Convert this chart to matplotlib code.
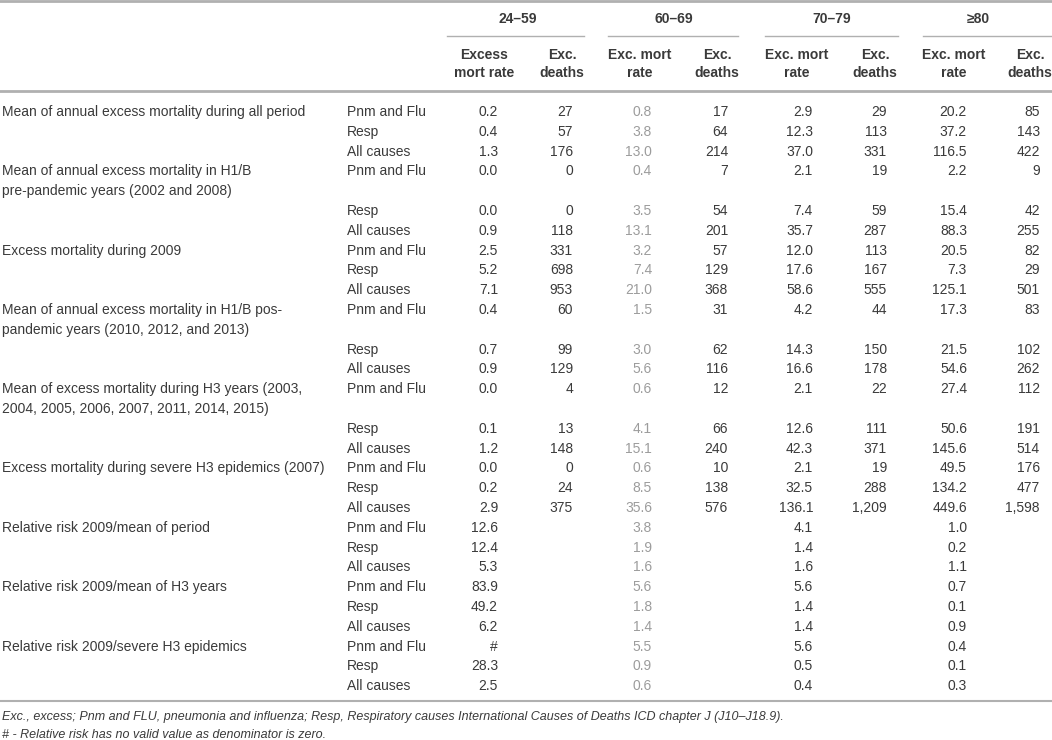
import matplotlib.pyplot as plt

plt.rcParams['font.family'] = ['Liberation Sans', 'DejaVu Sans']

# row labels (only on the first slot of each group; "" = nothing)
row_labels = [
    "Mean of annual excess mortality during all period", "", "",
    "Mean of annual excess mortality in H1/B", "pre-pandemic years (2002 and 2008)", "", "",
    "Excess mortality during 2009", "", "",
    "Mean of annual excess mortality in H1/B pos-", "pandemic years (2010, 2012, and 2013)", "", "",
    "Mean of excess mortality during H3 years (2003,", "2004, 2005, 2006, 2007, 2011, 2014, 2015)", "", "",
    "Excess mortality during severe H3 epidemics (2007)", "", "",
    "Relative risk 2009/mean of period", "", "",
    "Relative risk 2009/mean of H3 years", "", "",
    "Relative risk 2009/severe H3 epidemics", "", "",
]
causes = [
    "Pnm and Flu", "Resp", "All causes",
    "Pnm and Flu", "", "Resp", "All causes",
    "Pnm and Flu", "Resp", "All causes",
    "Pnm and Flu", "", "Resp", "All causes",
    "Pnm and Flu", "", "Resp", "All causes",
    "Pnm and Flu", "Resp", "All causes",
    "Pnm and Flu", "Resp", "All causes",
    "Pnm and Flu", "Resp", "All causes",
    "Pnm and Flu", "Resp", "All causes",
]

age_groups = ["24\u201359", "60\u201369", "70\u201379", "\u226580"]

rate_24_59 = ["0.2", "0.4", "1.3", "0.0", "", "0.0", "0.9", "2.5", "5.2", "7.1",
              "0.4", "", "0.7", "0.9", "0.0", "", "0.1", "1.2", "0.0", "0.2", "2.9",
              "12.6", "12.4", "5.3", "83.9", "49.2", "6.2", "#", "28.3", "2.5"]
deaths_24_59 = ["27", "57", "176", "0", "", "0", "118", "331", "698", "953",
                "60", "", "99", "129", "4", "", "13", "148", "0", "24", "375",
                "", "", "", "", "", "", "", "", ""]
rate_60_69 = ["0.8", "3.8", "13.0", "0.4", "", "3.5", "13.1", "3.2", "7.4", "21.0",
              "1.5", "", "3.0", "5.6", "0.6", "", "4.1", "15.1", "0.6", "8.5", "35.6",
              "3.8", "1.9", "1.6", "5.6", "1.8", "1.4", "5.5", "0.9", "0.6"]
deaths_60_69 = ["17", "64", "214", "7", "", "54", "201", "57", "129", "368",
                "31", "", "62", "116", "12", "", "66", "240", "10", "138", "576",
                "", "", "", "", "", "", "", "", ""]
rate_70_79 = ["2.9", "12.3", "37.0", "2.1", "", "7.4", "35.7", "12.0", "17.6", "58.6",
              "4.2", "", "14.3", "16.6", "2.1", "", "12.6", "42.3", "2.1", "32.5", "136.1",
              "4.1", "1.4", "1.6", "5.6", "1.4", "1.4", "5.6", "0.5", "0.4"]
deaths_70_79 = ["29", "113", "331", "19", "", "59", "287", "113", "167", "555",
                "44", "", "150", "178", "22", "", "111", "371", "19", "288", "1,209",
                "", "", "", "", "", "", "", "", ""]
rate_80 = ["20.2", "37.2", "116.5", "2.2", "", "15.4", "88.3", "20.5", "7.3", "125.1",
           "17.3", "", "21.5", "54.6", "27.4", "", "50.6", "145.6", "49.5", "134.2", "449.6",
           "1.0", "0.2", "1.1", "0.7", "0.1", "0.9", "0.4", "0.1", "0.3"]
deaths_80 = ["85", "143", "422", "9", "", "42", "255", "82", "29", "501",
             "83", "", "102", "262", "112", "", "191", "514", "176", "477", "1,598",
             "", "", "", "", "", "", "", "", ""]

footnotes = [
    "Exc., excess; Pnm and FLU, pneumonia and influenza; Resp, Respiratory causes "
    "International Causes of Deaths ICD chapter J (J10\u2013J18.9).",
    "# - Relative risk has no valid value as denominator is zero.",
]

W, H = 1052, 740
fig = plt.figure(figsize=(W / 100, H / 100), dpi=100)
ax = fig.add_axes([0, 0, 1, 1])
ax.set_xlim(0, W)
ax.set_ylim(H, 0)
ax.axis('off')

txt = '#3a3a3a'
light = '#9c9c9c'
line_c = '#b0b0b0'
fs = 10

# header
group_x = [518, 674, 832, 978]
group_span = [(447, 584), (608, 738), (765, 898), (923, 1052)]
rate_hdr_x = [484, 640, 797, 954]
death_hdr_x = [562, 717, 875, 1030]
rate_hdr = ["Excess\nmort rate", "Exc. mort\nrate", "Exc. mort\nrate", "Exc. mort\nrate"]

ax.plot([0, W], [1, 1], color=line_c, lw=2)
for g, gx, (x0, x1), rx, dx, rh in zip(age_groups, group_x, group_span,
                                      rate_hdr_x, death_hdr_x, rate_hdr):
    ax.text(gx, 19, g, ha='center', va='center', fontsize=fs,
            fontweight='bold', color=txt)
    ax.plot([x0, x1], [36, 36], color=line_c, lw=1)
    ax.text(rx, 64, rh, ha='center', va='center', fontsize=fs,
            fontweight='bold', color=txt, linespacing=1.45)
    ax.text(dx, 64, "Exc.\ndeaths", ha='center', va='center', fontsize=fs,
            fontweight='bold', color=txt, linespacing=1.45)
ax.plot([0, W], [91, 91], color=line_c, lw=2)

# body
y0, dy = 112, 19.8
value_cols = [rate_24_59, deaths_24_59, rate_60_69, deaths_60_69,
              rate_70_79, deaths_70_79, rate_80, deaths_80]
right_x = [498, 573, 652, 728, 813, 887, 967, 1040]
col_colors = [txt, txt, light, txt, txt, txt, txt, txt]

for i, (lab, cause) in enumerate(zip(row_labels, causes)):
    y = y0 + i * dy
    ax.text(2, y, lab, ha='left', va='center', fontsize=fs, color=txt)
    ax.text(347, y, cause, ha='left', va='center', fontsize=fs, color=txt)
    for col, rx, c in zip(value_cols, right_x, col_colors):
        ax.text(rx, y, col[i], ha='right', va='center', fontsize=fs, color=c)

ax.plot([0, W], [701, 701], color=line_c, lw=1.5)
ax.text(2, 717, footnotes[0], ha='left', va='center', fontsize=9,
        style='italic', color=txt)
ax.text(2, 735, footnotes[1], ha='left', va='center', fontsize=9,
        style='italic', color=txt)

fig.savefig('out.png', dpi=100)
